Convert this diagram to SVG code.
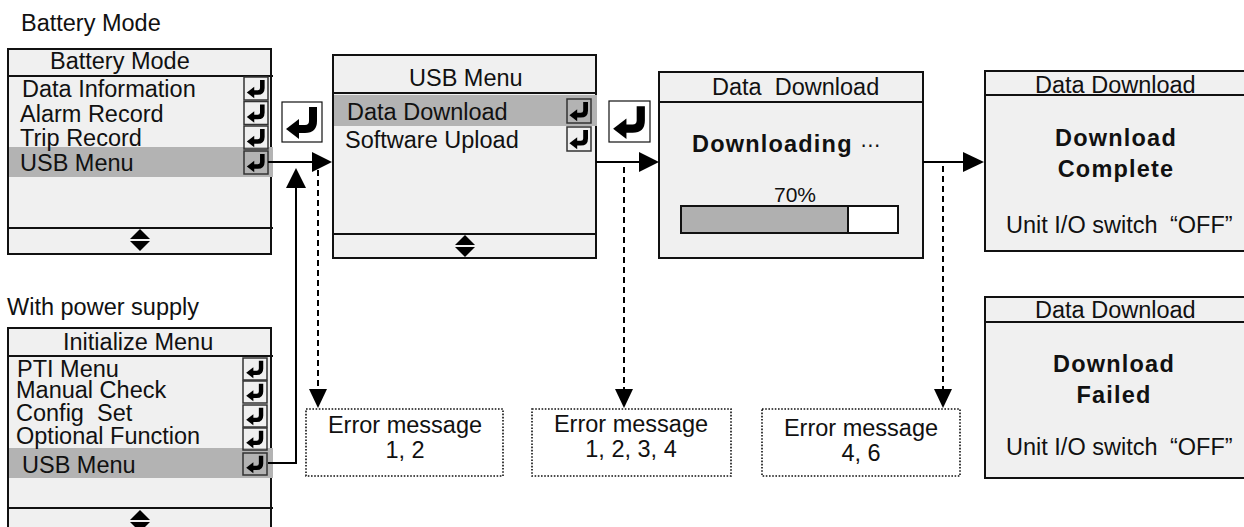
<svg xmlns="http://www.w3.org/2000/svg" xmlns:xlink="http://www.w3.org/1999/xlink" width="1244" height="527" viewBox="0 0 1244 527">
<style>
.t{font-family:"Liberation Sans",Arial,sans-serif;font-size:23.5px;fill:#111}
.b{font-weight:bold;letter-spacing:1.2px}
.box{fill:#f0f0f0;stroke:#111;stroke-width:2}
.sep{stroke:#111;stroke-width:2}
.hl{fill:#b3b3b3}
.ico{fill:none;stroke:#333;stroke-width:1.5}
.big{fill:#fff;stroke:#111;stroke-width:1.2}
.err{fill:#fff;stroke:#111;stroke-width:1.6;stroke-dasharray:1.6 1.6}
.conn{stroke:#000;stroke-width:2;fill:none}
.dash{stroke:#000;stroke-width:2;stroke-dasharray:6 4;fill:none}
.head{fill:#000}
</style>
<defs>
<symbol id="enter" viewBox="0 0 40 40">
<path d="M31,5 V19 Q31,27 23,27 H15" fill="none" stroke="#000" stroke-width="8"/>
<polygon points="4,27 17,17 17,37" fill="#000"/>
</symbol>
<symbol id="ud" viewBox="0 0 20 22">
<polygon points="0,10 10,0 20,10" fill="#000"/>
<polygon points="0,12 20,12 10,22" fill="#000"/>
</symbol>
</defs>

<text class="t" x="21" y="31">Battery Mode</text>
<text class="t" x="7" y="315">With power supply</text>

<g id="battery-mode">
<rect class="box" x="8" y="49" width="263" height="205"/>
<line class="sep" x1="7" y1="76" x2="273" y2="76"/>
<rect class="hl" x="9" y="147" width="264" height="30"/>
<text class="t" x="50" y="69">Battery Mode</text>
<text class="t" x="22" y="97">Data Information</text>
<text class="t" x="20" y="122">Alarm Record</text>
<text class="t" x="20" y="146">Trip Record</text>
<text class="t" x="20" y="171">USB Menu</text>
<rect class="ico" x="244" y="77" width="24" height="23"/><use href="#enter" x="244" y="77" width="24" height="23"/>
<rect class="ico" x="244" y="101.5" width="24" height="23"/><use href="#enter" x="244" y="101.5" width="24" height="23"/>
<rect class="ico" x="244" y="126" width="24" height="23"/><use href="#enter" x="244" y="126" width="24" height="23"/>
<rect class="ico" x="244" y="151" width="24" height="23"/><use href="#enter" x="244" y="151" width="24" height="23"/>
<line class="sep" x1="7" y1="228" x2="273" y2="228"/>
<use href="#ud" x="130" y="229" width="20" height="22"/>
</g>

<g id="initialize-menu">
<rect class="box" x="8" y="328" width="263" height="210"/>
<line class="sep" x1="7" y1="356" x2="273" y2="356"/>
<rect class="hl" x="9" y="448" width="264" height="30"/>
<text class="t" x="63" y="350">Initialize Menu</text>
<text class="t" x="17" y="377">PTI Menu</text>
<text class="t" x="16" y="398">Manual Check</text>
<text class="t" x="16" y="421" xml:space="preserve">Config  Set</text>
<text class="t" x="16" y="444">Optional Function</text>
<text class="t" x="22" y="473">USB Menu</text>
<rect class="ico" x="243" y="358" width="24" height="22"/><use href="#enter" x="243" y="358" width="24" height="22"/>
<rect class="ico" x="243" y="381" width="24" height="22"/><use href="#enter" x="243" y="381" width="24" height="22"/>
<rect class="ico" x="243" y="405" width="24" height="22"/><use href="#enter" x="243" y="405" width="24" height="22"/>
<rect class="ico" x="243" y="428" width="24" height="22"/><use href="#enter" x="243" y="428" width="24" height="22"/>
<rect class="ico" x="243" y="453" width="24" height="22"/><use href="#enter" x="243" y="453" width="24" height="22"/>
<line class="sep" x1="7" y1="508" x2="273" y2="508"/>
<use href="#ud" x="130" y="510" width="20" height="22"/>
</g>

<g id="enter-key-1">
<rect class="big" x="282" y="102" width="40" height="40"/>
<use href="#enter" x="282" y="102" width="40" height="40"/>
</g>

<g id="usb-menu">
<rect class="box" x="333" y="55" width="263" height="203"/>
<line class="sep" x1="332" y1="93" x2="597" y2="93"/>
<rect class="hl" x="334" y="95" width="263" height="31"/>
<text class="t" x="409" y="86">USB Menu</text>
<text class="t" x="347" y="120">Data Download</text>
<text class="t" x="345" y="148">Software Upload</text>
<rect class="ico" x="567" y="99" width="24" height="24"/><use href="#enter" x="567" y="99" width="24" height="24"/>
<rect class="ico" x="567" y="127" width="24" height="24"/><use href="#enter" x="567" y="127" width="24" height="24"/>
<line class="sep" x1="332" y1="234" x2="597" y2="234"/>
<use href="#ud" x="455" y="235" width="20" height="22"/>
</g>

<g id="enter-key-2">
<rect class="big" x="609" y="101" width="41" height="41"/>
<use href="#enter" x="609" y="101" width="41" height="41"/>
</g>

<g id="downloading">
<rect class="box" x="659" y="72" width="264" height="186"/>
<line class="sep" x1="658" y1="102" x2="924" y2="102"/>
<text class="t" x="712" y="95" xml:space="preserve">Data  Download</text>
<text class="t b" x="692" y="152">Downloading <tspan style="font-family:'DejaVu Sans',sans-serif;font-weight:normal;letter-spacing:0;font-size:20px">⋯</tspan></text>
<text class="t" x="795" y="202" text-anchor="middle" style="font-size:21px">70%</text>
<rect x="681" y="206" width="217" height="27" fill="#fff" stroke="#111" stroke-width="2"/>
<rect x="681" y="206" width="167" height="27" fill="#b0b0b0" stroke="#111" stroke-width="2"/>
</g>

<g id="download-complete">
<rect class="box" x="985" y="71" width="262" height="180"/>
<line class="sep" x1="984" y1="95" x2="1244" y2="95"/>
<text class="t" x="1035" y="93">Data Download</text>
<text class="t b" x="1116" y="146" text-anchor="middle">Download</text>
<text class="t b" x="1116" y="177" text-anchor="middle">Complete</text>
<text class="t" x="1006" y="233">Unit I/O switch <tspan dx="6">“</tspan>OFF”</text>
</g>

<g id="download-failed">
<rect class="box" x="985" y="297" width="262" height="181"/>
<line class="sep" x1="984" y1="322" x2="1244" y2="322"/>
<text class="t" x="1035" y="318">Data Download</text>
<text class="t b" x="1114" y="372" text-anchor="middle">Download</text>
<text class="t b" x="1114" y="403" text-anchor="middle">Failed</text>
<text class="t" x="1006" y="455">Unit I/O switch <tspan dx="6">“</tspan>OFF”</text>
</g>

<g id="error-1">
<rect class="err" x="306" y="409" width="197" height="67"/>
<text class="t" x="405" y="433" text-anchor="middle">Error message</text>
<text class="t" x="405" y="458" text-anchor="middle">1, 2</text>
</g>
<g id="error-2">
<rect class="err" x="532" y="409" width="199" height="67"/>
<text class="t" x="631" y="432" text-anchor="middle">Error message</text>
<text class="t" x="631" y="457" text-anchor="middle">1, 2, 3, 4</text>
</g>
<g id="error-3">
<rect class="err" x="762" y="409" width="198" height="67"/>
<text class="t" x="861" y="436" text-anchor="middle">Error message</text>
<text class="t" x="861" y="461" text-anchor="middle">4, 6</text>
</g>

<g id="connectors">
<line class="conn" x1="268" y1="162" x2="314" y2="162"/>
<polygon class="head" points="312,152 332,162 312,172"/>
<polyline class="conn" points="268,463 296,463 296,186"/>
<polygon class="head" points="286,188 296,168 306,188"/>
<line class="conn" x1="596" y1="162" x2="642" y2="162"/>
<polygon class="head" points="639,152 659,162 639,172"/>
<line class="conn" x1="923" y1="162" x2="965" y2="162"/>
<polygon class="head" points="963,152 984,162 963,172"/>
<line class="dash" x1="318" y1="170" x2="318" y2="390"/>
<polygon class="head" points="309,389 318,408 327,389"/>
<line class="dash" x1="624" y1="167" x2="624" y2="390"/>
<polygon class="head" points="615,389 624,408 633,389"/>
<line class="dash" x1="943" y1="166" x2="943" y2="390"/>
<polygon class="head" points="934,389 943,408 952,389"/>
</g>
</svg>
